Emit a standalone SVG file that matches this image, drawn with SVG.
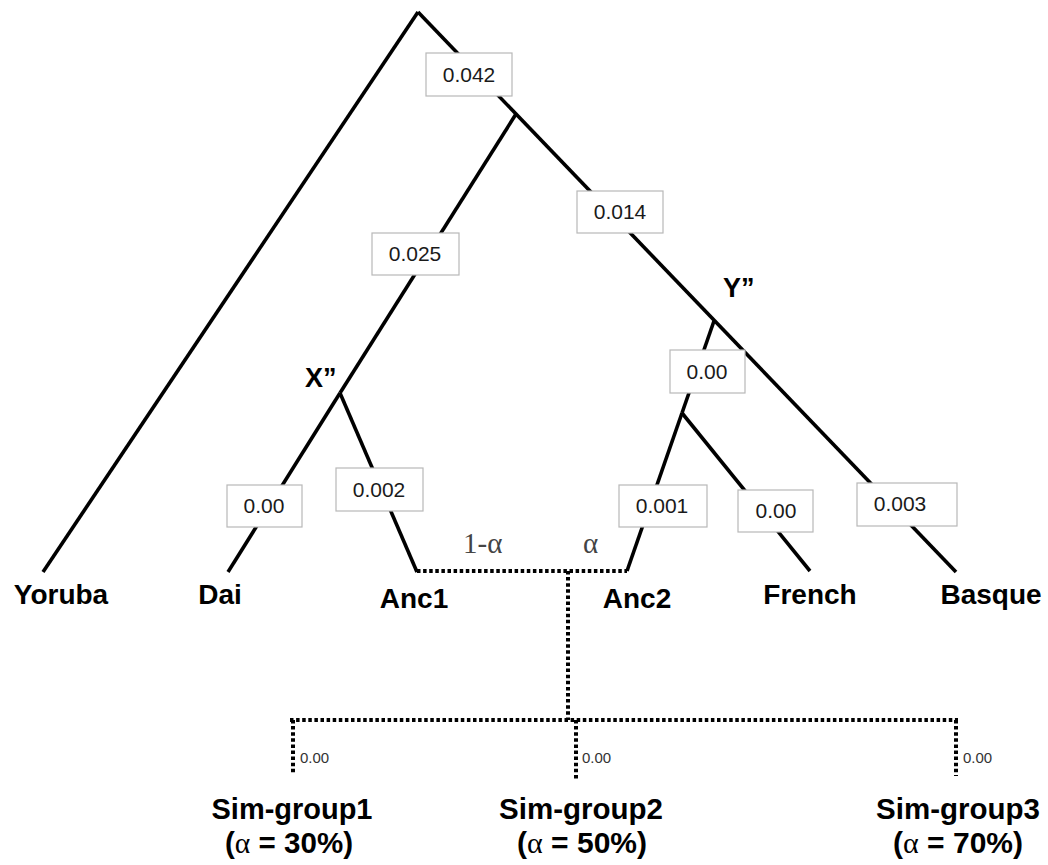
<svg xmlns="http://www.w3.org/2000/svg" width="1048" height="865" viewBox="0 0 1048 865">
<style>
.br{stroke:#000;stroke-width:3.6;fill:none;stroke-linecap:butt}
.dt{stroke:#000;stroke-width:4;fill:none;stroke-dasharray:3.5 2.6}
.box{fill:#fff;stroke:#b8b8b8;stroke-width:1.2}
.bl{font-family:"Liberation Sans",Arial,sans-serif;font-size:21px;fill:#1a1a1a;text-anchor:middle}
.leaf{font-family:"Liberation Sans",Arial,sans-serif;font-size:28px;font-weight:bold;fill:#000;text-anchor:middle}
.node{font-family:"Liberation Sans",Arial,sans-serif;font-size:27px;font-weight:bold;fill:#000}
.sm{font-family:"Liberation Sans",Arial,sans-serif;font-size:15px;fill:#333}
.gr{font-family:"Liberation Serif","Times New Roman",serif;font-size:29px;fill:#444}
.sim{font-family:"Liberation Sans",Arial,sans-serif;font-size:29px;font-weight:bold;fill:#000;text-anchor:middle}
.ser{font-family:"Liberation Serif","Times New Roman",serif;font-weight:normal}
</style>
<rect width="1048" height="865" fill="#fff"/>
<g id="connectors">
<line class="br" x1="418" y1="12" x2="43" y2="572"/>
<line class="br" x1="418" y1="12" x2="956" y2="572"/>
<line class="br" x1="516" y1="114" x2="340" y2="393"/>
<line class="br" x1="340" y1="393" x2="228" y2="572"/>
<line class="br" x1="340" y1="393" x2="417" y2="572"/>
<line class="br" x1="714" y1="321" x2="682" y2="413"/>
<line class="br" x1="682" y1="413" x2="627" y2="571"/>
<line class="br" x1="682" y1="413" x2="810" y2="571"/>
<path class="dt" d="M417 571 H627"/>
<path class="dt" d="M568 571 V720"/>
<path class="dt" d="M290 720 H958"/>
<path class="dt" d="M293 720 V775"/>
<path class="dt" d="M576 720 V780"/>
<path class="dt" d="M956 720 V776"/>
</g>
<g id="b042"><rect class="box" x="426" y="53" width="86" height="43"/><text class="bl" x="469" y="82">0.042</text></g>
<g id="b025"><rect class="box" x="372" y="233" width="87" height="42"/><text class="bl" x="415" y="261">0.025</text></g>
<g id="b014"><rect class="box" x="577" y="191" width="86" height="42"/><text class="bl" x="620" y="219">0.014</text></g>
<g id="bY00"><rect class="box" x="670" y="350" width="75" height="43"/><text class="bl" x="707" y="379">0.00</text></g>
<g id="bDai"><rect class="box" x="227" y="485" width="75" height="42"/><text class="bl" x="264" y="513">0.00</text></g>
<g id="b002"><rect class="box" x="336" y="468" width="87" height="43"/><text class="bl" x="379" y="497">0.002</text></g>
<g id="b001"><rect class="box" x="619" y="485" width="88" height="42"/><text class="bl" x="662" y="513">0.001</text></g>
<g id="bFr"><rect class="box" x="738" y="490" width="75" height="42"/><text class="bl" x="776" y="518">0.00</text></g>
<g id="b003"><rect class="box" x="857" y="483" width="100" height="43"/><text class="bl" x="900" y="511">0.003</text></g>
<g id="nodeX"><text class="node" x="305" y="387">X”</text></g>
<g id="nodeY"><text class="node" x="723" y="297">Y”</text></g>
<g id="alpha"><text class="gr" x="463" y="553">1-α</text><text class="gr" x="583" y="553">α</text></g>
<g id="Yoruba"><text class="leaf" x="61" y="604">Yoruba</text></g>
<g id="Dai"><text class="leaf" x="220" y="604">Dai</text></g>
<g id="Anc1"><text class="leaf" x="414" y="608">Anc1</text></g>
<g id="Anc2"><text class="leaf" x="637" y="608">Anc2</text></g>
<g id="French"><text class="leaf" x="810" y="604">French</text></g>
<g id="Basque"><text class="leaf" x="991" y="604">Basque</text></g>
<g id="sim1"><text class="sm" x="300" y="763">0.00</text><text class="sim" x="292" y="819" textLength="161" lengthAdjust="spacingAndGlyphs">Sim-group1</text><text class="sim" x="289" y="853" textLength="128" lengthAdjust="spacingAndGlyphs">(<tspan class="ser">α</tspan> = 30%)</text></g>
<g id="sim2"><text class="sm" x="582" y="763">0.00</text><text class="sim" x="581" y="819" textLength="164" lengthAdjust="spacingAndGlyphs">Sim-group2</text><text class="sim" x="582" y="853" textLength="130" lengthAdjust="spacingAndGlyphs">(<tspan class="ser">α</tspan> = 50%)</text></g>
<g id="sim3"><text class="sm" x="963" y="763">0.00</text><text class="sim" x="958" y="819" textLength="164" lengthAdjust="spacingAndGlyphs">Sim-group3</text><text class="sim" x="958" y="853" textLength="130" lengthAdjust="spacingAndGlyphs">(<tspan class="ser">α</tspan> = 70%)</text></g>
</svg>
